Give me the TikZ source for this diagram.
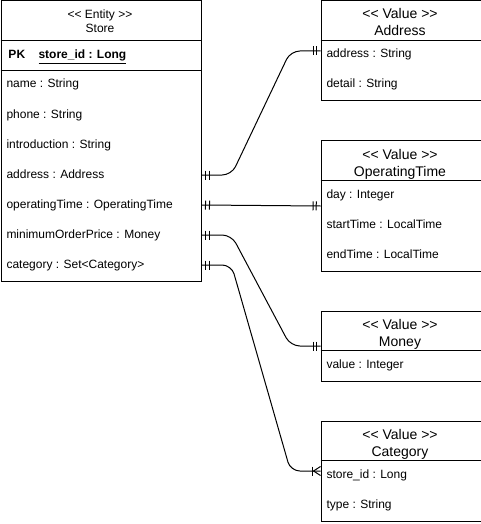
\documentclass[tikz,border=0pt]{standalone}
\usepackage{fontspec}
\setmainfont{Liberation Sans}[Ligatures=TeXOff]
\usetikzlibrary{decorations.markings,calc}
\begin{document}
\begin{tikzpicture}[x=0.75pt,y=-0.75pt,line width=0.75pt,
  box/.style={draw,line width=0.75pt,inner sep=0pt,anchor=north west,minimum width=#1},
  box/.default=120pt,
  attr/.style={anchor=base west,inner sep=0pt,font=\fontsize{9}{10.8}\selectfont},
  head/.style={anchor=base,inner sep=0pt,font=\fontsize{9}{10.8}\selectfont},
  vhead/.style={anchor=base,inner sep=0pt,font=\fontsize{10.5}{12.6}\selectfont},
  conn/.style={draw,line width=0.75pt,rounded corners=7pt},
  onestart/.style={postaction={decorate,decoration={markings,
      mark=at position 3pt with {\draw[line width=0.75pt,rounded corners=0pt] (0,-4.5)--(0,4.5);},
      mark=at position 6pt with {\draw[line width=0.75pt,rounded corners=0pt] (0,-4.5)--(0,4.5);}}}},
  oneend/.style={postaction={decorate,decoration={markings,
      mark=at position -3.2pt with {\draw[line width=0.75pt,rounded corners=0pt] (0,-4.5)--(0,4.5);},
      mark=at position -5.6pt with {\draw[line width=0.75pt,rounded corners=0pt] (0,-4.5)--(0,4.5);}}}},
  manyend/.style={postaction={decorate,decoration={markings,
      mark=at position 1 with {\draw[line width=0.75pt,rounded corners=0pt] (-8,-4.5)--(-8,4.5);
        \draw[line width=0.75pt,rounded corners=0pt] (0,-4.5)--(-7,0)--(0,4.5);}}}}
]
\useasboundingbox (0,0) rectangle (481,524);

% Store entity
\node[box=150pt,minimum height=210pt] (store) at (0.5,0.5) {};
\draw (0.5,40.5) -- (200.5,40.5);
\draw (0.5,70.5) -- (200.5,70.5);
\node[head] (sh1) at (100,18.5) {<< Entity >>};
\node[head] (sh2) at (100,32.5) {Store};
\node[attr,font=\fontsize{9}{10.8}\selectfont\bfseries] (pk) at (8,59) {PK};
\node[attr,font=\fontsize{9}{10.8}\selectfont\bfseries] (pkid) at (38,59) {\underline{store\_id : Long}};
\node[attr] (a1) at (6,88) {name : String};
\node[attr] (a2) at (6,118) {phone : String};
\node[attr] (a3) at (6,148) {introduction : String};
\node[attr] (a4) at (6,178) {address : Address};
\node[attr] (a5) at (6,208) {operatingTime : OperatingTime};
\node[attr] (a6) at (6,238) {minimumOrderPrice : Money};
\node[attr] (a7) at (6,268) {category : Set<Category>};

% Address
\node[box,minimum height=75pt] (addr) at (320.5,0.5) {};
\draw (320.5,40.5) -- (480.5,40.5);
\node[vhead] (ah1) at (400,19) {<< Value >>};
\node[vhead] (ah2) at (400,36) {Address};
\node[attr] (b1) at (326,58) {address : String};
\node[attr] (b2) at (326,88) {detail : String};

% OperatingTime
\node[box,minimum height=97.5pt] (optime) at (320.5,140.5) {};
\draw (320.5,180.5) -- (480.5,180.5);
\node[vhead] (oh1) at (400,159) {<< Value >>};
\node[vhead] (oh2) at (400,176) {OperatingTime};
\node[attr] (c1) at (326,198) {day : Integer};
\node[attr] (c2) at (326,228) {startTime : LocalTime};
\node[attr] (c3) at (326,258) {endTime : LocalTime};

% Money
\node[box,minimum height=52.5pt] (money) at (320.5,310.5) {};
\draw (320.5,350.5) -- (480.5,350.5);
\node[vhead] (mh1) at (400,329) {<< Value >>};
\node[vhead] (mh2) at (400,346) {Money};
\node[attr] (d1) at (326,368) {value : Integer};

% Category
\node[box,minimum height=75pt] (cat) at (320.5,420.5) {};
\draw (320.5,460.5) -- (480.5,460.5);
\node[vhead] (kh1) at (400,439) {<< Value >>};
\node[vhead] (kh2) at (400,456) {Category};
\node[attr] (e1) at (326,478) {store\_id : Long};
\node[attr] (e2) at (326,508) {type : String};

% connector end points on the Store box
\coordinate (p-address) at ($(store.north east)+(0,174.5)$);
\coordinate (p-optime) at ($(store.north east)+(0,204.5)$);
\coordinate (p-money) at ($(store.north east)+(0,234.5)$);
\coordinate (p-cat) at ($(store.north east)+(0,264.5)$);

\path[conn,onestart,oneend] (p-address) -- ++(30,0) -- ($(addr.west)+(-30,0)$) -- (addr.west);
\path[conn,onestart,oneend] (p-optime) -- (optime.west);
\path[conn,onestart,oneend] (p-money) -- ++(30,0) -- ($(money.west)+(-30,0)$) -- (money.west);
\path[conn,onestart,manyend] (p-cat) -- ++(30,0) -- ($(cat.west)+(-30,0)$) -- (cat.west);
\end{tikzpicture}
\end{document}
